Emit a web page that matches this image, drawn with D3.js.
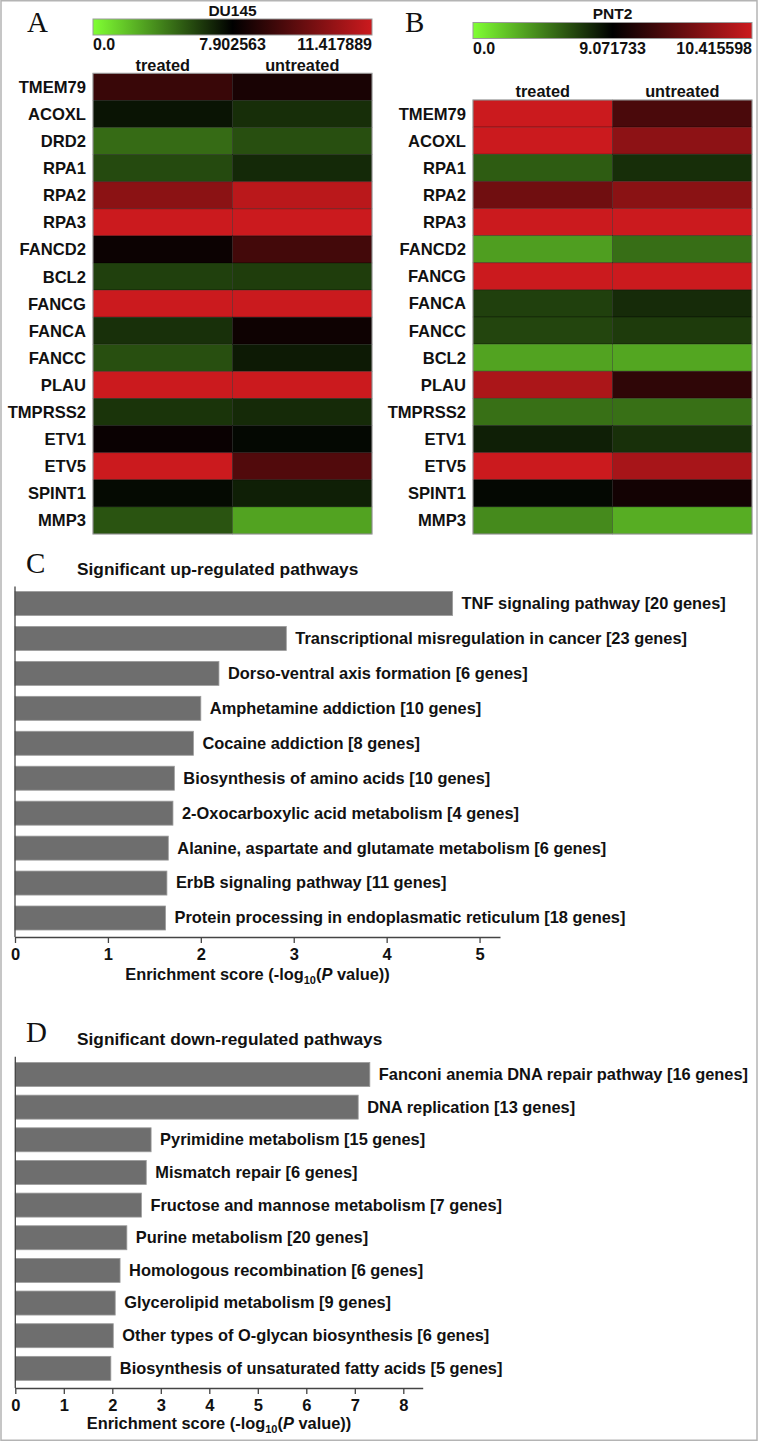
<!DOCTYPE html>
<html>
<head>
<meta charset="utf-8">
<script src="https://cdn.jsdelivr.net/npm/d3@7"></script>
<style>
  html, body { margin: 0; padding: 0; background: #fff; }
  svg { display: block; }
  text { font-family: "Liberation Sans", Arial, sans-serif; fill: #111; }
</style>
</head>
<body>
<div id="chart"></div>
<script>
// ---------------- DATA ----------------
const conditions = ["treated", "untreated"];

const genesA = ["TMEM79","ACOXL","DRD2","RPA1","RPA2","RPA3","FANCD2","BCL2","FANCG","FANCA","FANCC","PLAU","TMPRSS2","ETV1","ETV5","SPINT1","MMP3"];
const du145Treated   = [8.89, 7.27, 4.58, 5.61, 10.29, 11.40, 8.11, 5.93, 11.40, 6.40, 5.45, 11.40, 6.30, 8.08, 11.40, 7.60, 5.30];
const du145Untreated = [8.33, 6.48, 5.45, 6.64, 11.10, 11.40, 9.06, 6.00, 11.38, 8.15, 7.10, 11.40, 6.60, 7.66, 9.30, 6.95, 2.85];
const du145Ticks = ["0.0", "7.902563", "11.417889"];
const du145Domain = [0, 7.902563, 11.417889];

const genesB = ["TMEM79","ACOXL","RPA1","RPA2","RPA3","FANCD2","FANCG","FANCA","FANCC","BCL2","PLAU","TMPRSS2","ETV1","ETV5","SPINT1","MMP3"];
const pnt2Treated   = [10.41, 10.41, 5.80, 9.81, 10.41, 3.45, 10.41, 6.80, 6.62, 3.27, 10.20, 5.08, 7.98, 10.41, 8.80, 4.17];
const pnt2Untreated = [9.56, 10.00, 7.44, 9.98, 10.41, 5.17, 10.41, 7.53, 6.98, 3.17, 9.38, 5.10, 7.35, 10.17, 9.20, 2.90];
const pnt2Ticks = ["0.0", "9.071733", "10.415598"];
const pnt2Domain = [0, 9.071733, 10.415598];

const upPathways = [
  "TNF signaling pathway [20 genes]",
  "Transcriptional misregulation in cancer [23 genes]",
  "Dorso-ventral axis formation [6 genes]",
  "Amphetamine addiction [10 genes]",
  "Cocaine addiction [8 genes]",
  "Biosynthesis of amino acids [10 genes]",
  "2-Oxocarboxylic acid metabolism [4 genes]",
  "Alanine, aspartate and glutamate metabolism [6 genes]",
  "ErbB signaling pathway [11 genes]",
  "Protein processing in endoplasmatic reticulum [18 genes]"
];
const upScores = [4.71, 2.92, 2.195, 2.00, 1.92, 1.715, 1.70, 1.65, 1.635, 1.62];
const upTicks = [0, 1, 2, 3, 4, 5];

const downPathways = [
  "Fanconi anemia DNA repair pathway [16 genes]",
  "DNA replication [13 genes]",
  "Pyrimidine metabolism [15 genes]",
  "Mismatch repair [6 genes]",
  "Fructose and mannose metabolism [7 genes]",
  "Purine metabolism [20 genes]",
  "Homologous recombination [6 genes]",
  "Glycerolipid metabolism [9 genes]",
  "Other types of O-glycan biosynthesis [6 genes]",
  "Biosynthesis of unsaturated fatty acids [5 genes]"
];
const downScores = [7.31, 7.07, 2.80, 2.70, 2.60, 2.30, 2.16, 2.06, 2.02, 1.97];
const downTicks = [0, 1, 2, 3, 4, 5, 6, 7, 8];

// ---------------- DRAW ----------------
const W = 760, H = 1442;
const svg = d3.select("#chart").append("svg").attr("width", W).attr("height", H);
svg.append("rect").attr("x", 0).attr("y", 0).attr("width", W).attr("height", H).attr("fill", "#fff");
// outer frame
svg.append("rect").attr("x", 1).attr("y", 0.75).attr("width", 756).attr("height", 1439.5)
  .attr("fill", "none").attr("stroke", "#b4b4b4").attr("stroke-width", 1.5);

const GREEN = "#80ff33", BLACK = "#000000", RED = "#cc1a1e";

function panelLetter(ch, x, y) {
  svg.append("text").attr("x", x).attr("y", y).text(ch)
    .style("font-family", "'Liberation Serif', 'Times New Roman', serif")
    .style("font-size", "29px");
}

let gradCount = 0;
function heatmap(o) {
  const color = d3.scaleLinear().domain(o.domain).range([GREEN, BLACK, RED]).clamp(true);
  const g = svg.append("g");
  g.append("text").attr("x", (o.x0 + o.x1) / 2).attr("y", o.titleY).attr("text-anchor", "middle")
    .style("font-weight", "bold").style("font-size", "15.5px").text(o.title);
  const gid = "grad" + (gradCount++);
  const grad = svg.append("defs").append("linearGradient").attr("id", gid)
    .attr("x1", "0%").attr("x2", "100%").attr("y1", "0%").attr("y2", "0%");
  grad.append("stop").attr("offset", "0%").attr("stop-color", color(o.domain[0]));
  grad.append("stop").attr("offset", "50%").attr("stop-color", color(o.domain[1]));
  grad.append("stop").attr("offset", "100%").attr("stop-color", color(o.domain[2]));
  g.append("rect").attr("x", o.x0).attr("y", o.barY).attr("width", o.x1 - o.x0).attr("height", 16)
    .attr("fill", `url(#${gid})`).attr("stroke", "#9a9a9a").attr("stroke-width", 1);
  const anchors = ["start", "middle", "end"];
  const tx = [o.x0, (o.x0 + o.x1) / 2, o.x1];
  o.ticks.forEach((t, i) => {
    g.append("text").attr("x", tx[i]).attr("y", o.tickY).attr("text-anchor", anchors[i])
      .style("font-weight", "bold").style("font-size", "16px").text(t);
  });
  const xs = d3.scaleBand().domain(conditions).range([o.x0, o.x1]);
  const ys = d3.scaleBand().domain(o.genes).range([o.yTop, o.yBot]);
  conditions.forEach(c => {
    g.append("text").attr("x", xs(c) + xs.bandwidth() / 2).attr("y", o.colY).attr("text-anchor", "middle")
      .style("font-weight", "bold").style("font-size", "16.3px").text(c);
  });
  const cells = [];
  o.genes.forEach((gene, i) => {
    cells.push({gene, cond: "treated", v: o.treated[i]});
    cells.push({gene, cond: "untreated", v: o.untreated[i]});
  });
  g.selectAll("rect.cell").data(cells).enter().append("rect").attr("class", "cell")
    .attr("x", d => xs(d.cond)).attr("y", d => ys(d.gene))
    .attr("width", xs.bandwidth()).attr("height", ys.bandwidth())
    .attr("fill", d => color(d.v))
    .attr("stroke", "rgba(0,0,0,0.35)").attr("stroke-width", 0.8);
  g.append("rect").attr("x", o.x0).attr("y", o.yTop).attr("width", o.x1 - o.x0).attr("height", o.yBot - o.yTop)
    .attr("fill", "none").attr("stroke", "#a0a0a0").attr("stroke-width", 1);
  g.selectAll("text.row").data(o.genes).enter().append("text").attr("class", "row")
    .attr("x", o.x0 - 7).attr("y", d => ys(d) + ys.bandwidth() / 2).attr("dy", "0.36em")
    .attr("text-anchor", "end").style("font-weight", "bold").style("font-size", "16.6px").text(d => d);
}

panelLetter("A", 27, 32);
heatmap({title: "DU145", titleY: 16, x0: 93, x1: 372, barY: 19, tickY: 50, ticks: du145Ticks,
  domain: du145Domain, colY: 71, yTop: 73.3, yBot: 534, genes: genesA,
  treated: du145Treated, untreated: du145Untreated});

panelLetter("B", 405, 32);
heatmap({title: "PNT2", titleY: 19, x0: 473, x1: 752, barY: 22.5, tickY: 54, ticks: pnt2Ticks,
  domain: pnt2Domain, colY: 97, yTop: 100, yBot: 534, genes: genesB,
  treated: pnt2Treated, untreated: pnt2Untreated});

function barPanel(o) {
  const g = svg.append("g");
  g.append("text").attr("x", o.titleX).attr("y", o.titleY).style("font-weight", "bold")
    .style("font-size", "17.3px").text(o.title);
  const x = d3.scaleLinear().domain([0, o.xMax]).range([o.xLeft, o.xRight]);
  const y = d3.scaleBand().domain(o.names).range([o.yTop, o.yAxis])
    .paddingInner(o.pi).paddingOuter(o.po);
  const data = o.names.map((n, i) => ({n, v: o.scores[i]}));
  g.selectAll("rect.bar").data(data).enter().append("rect").attr("class", "bar")
    .attr("x", x(0)).attr("y", d => y(d.n)).attr("width", d => x(d.v) - x(0)).attr("height", y.bandwidth())
    .attr("fill", "#6e6e6e").attr("stroke", "#9c9c9c").attr("stroke-width", 0.8);
  g.selectAll("text.lab").data(data).enter().append("text").attr("class", "lab")
    .attr("x", d => x(d.v) + 9).attr("y", d => y(d.n) + y.bandwidth() / 2).attr("dy", "0.33em")
    .style("font-weight", "bold").style("font-size", "16.4px").text(d => d.n);
  g.append("line").attr("x1", x(0)).attr("x2", x(0)).attr("y1", o.yTop + 2).attr("y2", o.yAxis)
    .attr("stroke", "#444").attr("stroke-width", 1.3);
  const ax = g.append("g").attr("transform", `translate(0,${o.yAxis})`)
    .call(d3.axisBottom(x).tickValues(o.ticks).tickFormat(d3.format("d")).tickSize(6).tickSizeOuter(0).tickPadding(5));
  ax.select(".domain").attr("stroke", "#444").attr("stroke-width", 1.3);
  ax.selectAll(".tick line").attr("stroke", "#444").attr("stroke-width", 1.3);
  ax.selectAll(".tick text").style("font-family", "'Liberation Sans', Arial, sans-serif")
    .style("font-weight", "bold").style("font-size", "16.5px").attr("fill", "#111");
  const t = g.append("text").attr("x", (o.xLeft + o.xRight) / 2).attr("y", o.axisTitleY)
    .attr("text-anchor", "middle").style("font-weight", "bold").style("font-size", "16.4px");
  t.append("tspan").text("Enrichment score (-log");
  t.append("tspan").attr("dy", 4).style("font-size", "11px").text("10");
  t.append("tspan").attr("dy", -4).text("(");
  t.append("tspan").style("font-style", "italic").text("P");
  t.append("tspan").text(" value))");
}

panelLetter("C", 26, 573);
barPanel({title: "Significant up-regulated pathways", titleX: 77, titleY: 575,
  names: upPathways, scores: upScores, ticks: upTicks, xMax: 5.22,
  xLeft: 15, xRight: 500, yTop: 584.5, yAxis: 937, pi: 0.313, po: 0.2, axisTitleY: 980});

panelLetter("D", 26, 1042);
barPanel({title: "Significant down-regulated pathways", titleX: 77, titleY: 1045,
  names: downPathways, scores: downScores, ticks: downTicks, xMax: 8.4,
  xLeft: 15.3, xRight: 422.7, yTop: 1054.85, yAxis: 1388, pi: 0.265, po: 0.234, axisTitleY: 1429});
</script>
</body>
</html>
